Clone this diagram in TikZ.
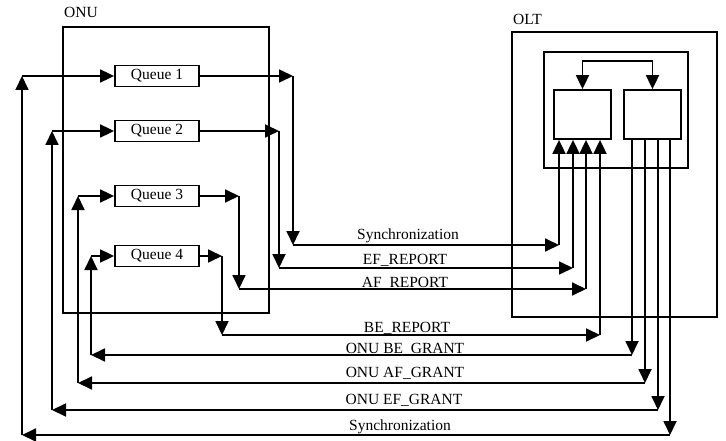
\documentclass[tikz,border=0pt]{standalone}
\usepackage{fontspec}
\setmainfont{Liberation Serif}
\usetikzlibrary{arrows.meta}
\begin{document}
\begin{tikzpicture}[x=1pt,y=-1pt,
  line width=1.8pt,
  tip/.style={-{Triangle[length=14pt,width=13pt]}},
  twotip/.style={{Triangle[length=14pt,width=13pt]}-{Triangle[length=14pt,width=13pt]}},
  frame/.style={draw,line width=1.8pt,inner sep=0pt},
  queue/.style={frame,minimum width=84pt,minimum height=21pt,font=\fontsize{15.5}{18}\selectfont},
  lbl/.style={font=\fontsize{15.5}{18}\selectfont,inner sep=0pt,anchor=base}]
\useasboundingbox (0,0) rectangle (726,441);

% ONU side
\node[frame,minimum width=206pt,minimum height=286pt] (onu) at (166,170) {};
\node[lbl] (onulbl) at (81,18) {ONU};
\node[queue] (q1) at (157,76) {Queue 1};
\node[queue] (q2) at (157,131) {Queue 2};
\node[queue] (q3) at (157,196) {Queue 3};
\node[queue] (q4) at (157,256) {Queue 4};

% OLT side
\node[frame,minimum width=205pt,minimum height=285pt] (olt) at (614.5,174.5) {};
\node[lbl] (oltlbl) at (527.5,25) {OLT};
\node[frame,minimum width=144pt,minimum height=116pt] (oltin) at (616,110) {};
\node[frame,minimum width=57pt,minimum height=49pt] (rx) at (582.5,114.5) {};
\node[frame,minimum width=57pt,minimum height=49pt] (tx) at (652.5,114.5) {};
\coordinate (tl) at (582.5,61);
\coordinate (tr) at (652.5,61);
\draw[twotip] (rx.north) -- (tl) -- (tr) -- (tx.north);

% upstream paths, queue -> OLT
\coordinate (o1a) at (293,76);  \coordinate (o1b) at (293,245); \coordinate (o1c) at (559,245);
\coordinate (o2a) at (279,131); \coordinate (o2b) at (279,268); \coordinate (o2c) at (573,268);
\coordinate (o3a) at (239,196); \coordinate (o3b) at (239,289); \coordinate (o3c) at (586,289);
\coordinate (o4a) at (222,256); \coordinate (o4b) at (222,335); \coordinate (o4c) at (600,335);
\foreach \k in {1,2,3,4}{
  \draw[tip] (q\k.east) -- (o\k a);
  \draw[tip] (o\k a) -- (o\k b);
  \draw[tip] (o\k b) -- (o\k c);
  \draw[tip] (o\k c) -- (o\k c |- rx.south);
}

% downstream paths, OLT -> queue
\coordinate (i4a) at (632,355); \coordinate (i4b) at (91,355); \coordinate (i4c) at (91,256);
\coordinate (i3a) at (645,383); \coordinate (i3b) at (78,383); \coordinate (i3c) at (78,196);
\coordinate (i2a) at (658,410); \coordinate (i2b) at (52,410); \coordinate (i2c) at (52,131);
\coordinate (i1a) at (670,435); \coordinate (i1b) at (22,435); \coordinate (i1c) at (22,76);
\foreach \k in {1,2,3,4}{
  \draw[tip] (i\k a |- tx.south) -- (i\k a);
  \draw[tip] (i\k a) -- (i\k b);
  \draw[tip] (i\k b) -- (i\k c);
  \draw[tip] (i\k c) -- (q\k.west);
}

% message labels
\node[lbl] (l1) at (408,240) {Synchronization};
\node[lbl] (l2) at (405,264) {EF\_REPORT};
\node[lbl] (l3) at (405,287) {AF\_REPORT};
\node[lbl] (l4) at (407,332) {BE\_REPORT};
\node[lbl] (l5) at (405,353) {ONU BE\_GRANT};
\node[lbl] (l6) at (405,377) {ONU AF\_GRANT};
\node[lbl] (l7) at (404,404) {ONU EF\_GRANT};
\node[lbl] (l8) at (400,430) {Synchronization};
\end{tikzpicture}
\end{document}
